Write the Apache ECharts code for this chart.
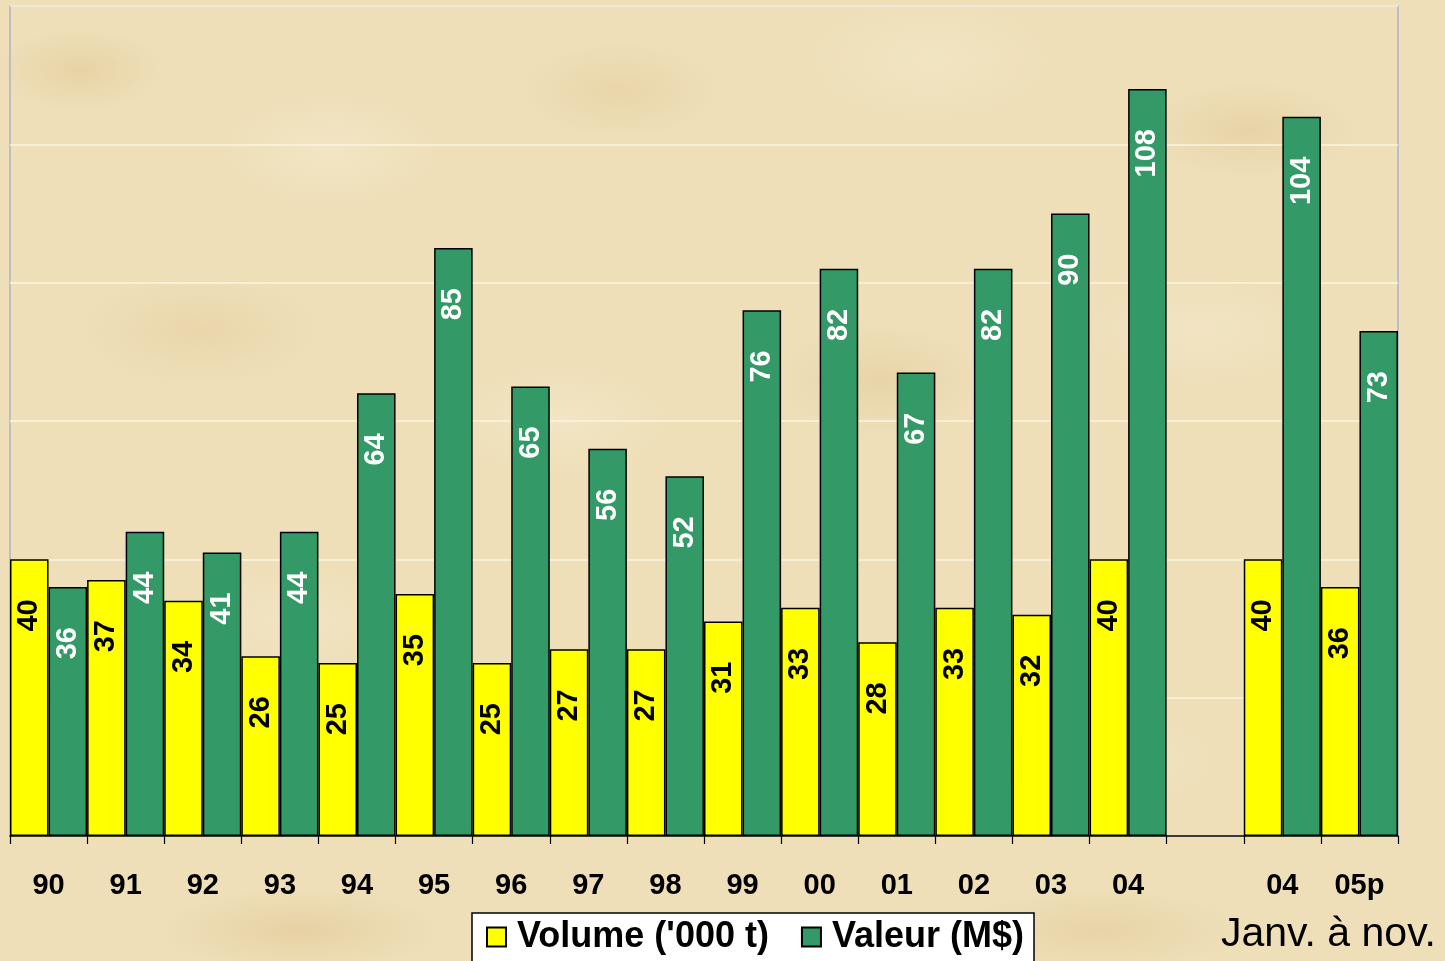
<!DOCTYPE html>
<html>
<head>
<meta charset="utf-8">
<script src="https://cdn.jsdelivr.net/npm/echarts@6/dist/echarts.min.js"></script>
<style>
html,body{margin:0;padding:0;width:1445px;height:961px;overflow:hidden;}
body{
  background-color:#EEDFB8;
  background-image:
    radial-gradient(ellipse 120px 60px at 80px 70px, rgba(226,200,150,0.55), rgba(226,200,150,0) 70%),
    radial-gradient(ellipse 160px 80px at 330px 150px, rgba(246,234,205,0.6), rgba(246,234,205,0) 70%),
    radial-gradient(ellipse 140px 70px at 620px 90px, rgba(228,203,155,0.5), rgba(228,203,155,0) 70%),
    radial-gradient(ellipse 180px 90px at 930px 60px, rgba(244,232,200,0.6), rgba(244,232,200,0) 70%),
    radial-gradient(ellipse 150px 70px at 1250px 130px, rgba(225,198,150,0.5), rgba(225,198,150,0) 70%),
    radial-gradient(ellipse 170px 80px at 200px 330px, rgba(229,204,158,0.5), rgba(229,204,158,0) 70%),
    radial-gradient(ellipse 160px 80px at 560px 420px, rgba(245,233,203,0.6), rgba(245,233,203,0) 70%),
    radial-gradient(ellipse 150px 80px at 880px 380px, rgba(226,200,152,0.5), rgba(226,200,152,0) 70%),
    radial-gradient(ellipse 170px 80px at 1200px 330px, rgba(244,232,202,0.6), rgba(244,232,202,0) 70%),
    radial-gradient(ellipse 160px 80px at 300px 620px, rgba(245,233,203,0.5), rgba(245,233,203,0) 70%),
    radial-gradient(ellipse 160px 80px at 700px 700px, rgba(227,201,153,0.5), rgba(227,201,153,0) 70%),
    radial-gradient(ellipse 180px 70px at 1100px 760px, rgba(244,232,202,0.5), rgba(244,232,202,0) 70%),
    radial-gradient(ellipse 200px 60px at 300px 930px, rgba(226,199,150,0.6), rgba(226,199,150,0) 70%),
    radial-gradient(ellipse 200px 60px at 1100px 930px, rgba(228,203,155,0.6), rgba(228,203,155,0) 70%);
}
#chart{width:1445px;height:961px;}
</style>
</head>
<body>
<div id="chart"></div>
<script>
var categories = ['90','91','92','93','94','95','96','97','98','99','00','01','02','03','04','','04','05p'];
var volume = [40,37,34,26,25,35,25,27,27,31,33,28,33,32,40,'-',40,36];
var valeur = [36,44,41,44,64,85,65,56,52,76,82,67,82,90,108,'-',104,73];
var seriesNames = ["Volume ('000 t)", 'Valeur (M$)'];
var yTicks = {min:0, max:120, interval:20};
var noteText = 'Janv. à nov.';

var FONT = 'Arial, "Liberation Sans", sans-serif';
var chart = echarts.init(document.getElementById('chart'), null, {renderer:'canvas'});

function labelCfg(color){
  return {
    show:true, position:'insideTop', rotate:90, align:'right', verticalAlign:'middle',
    distance:40, color:color, fontFamily:FONT, fontWeight:'bold', fontSize:29
  };
}

chart.setOption({
  backgroundColor:'transparent',
  animation:false,
  grid:{left:10, right:47, top:6, bottom:125, show:true, borderColor:'#AEB3C6', borderWidth:1.5, backgroundColor:'transparent'},
  legend:{
    left:472, top:913,
    padding:[6,10,30,14],
    backgroundColor:'#FFFFFF', borderColor:'#000000', borderWidth:1.5, borderRadius:0,
    itemWidth:19, itemHeight:19, itemGap:32, icon:'rect',
    textStyle:{fontFamily:FONT, fontWeight:'bold', fontSize:36, color:'#000', padding:[0,0,0,6]},
    data:seriesNames
  },
  xAxis:{
    type:'category', data:categories,
    axisLine:{show:true, lineStyle:{color:'#000', width:1.5}},
    axisTick:{show:true, length:8, lineStyle:{color:'#000', width:1.2}},
    axisLabel:{margin:35, fontFamily:FONT, fontWeight:'bold', fontSize:29, color:'#000', interval:0}
  },
  yAxis:{
    type:'value', min:yTicks.min, max:yTicks.max, interval:yTicks.interval,
    axisLine:{show:false}, axisTick:{show:false}, axisLabel:{show:false},
    splitLine:{show:true, lineStyle:{color:'#FBF4E2', width:1.5}}
  },
  series:[
    {name:seriesNames[0], type:'bar', data:volume, barGap:'0%', barCategoryGap:'0%',
     itemStyle:{color:'#FFFF00', borderColor:'#000', borderWidth:1.5},
     label:labelCfg('#000')},
    {name:seriesNames[1], type:'bar', data:valeur, barGap:'0%', barCategoryGap:'0%',
     itemStyle:{color:'#339966', borderColor:'#000', borderWidth:1.5},
     label:labelCfg('#FFFFFF')}
  ],
  graphic:[{
    type:'text', left:1221, top:914,
    style:{text:noteText, fontFamily:FONT, fontSize:41, fill:'#000'}
  }]
});
</script>
</body>
</html>
